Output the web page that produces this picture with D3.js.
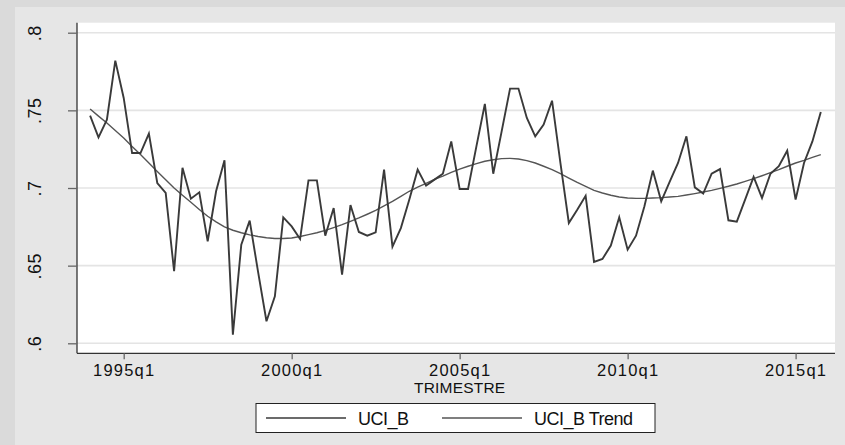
<!DOCTYPE html>
<html>
<head>
<meta charset="utf-8">
<script src="https://cdn.jsdelivr.net/npm/d3@7"></script>
<style>
  html, body { margin: 0; padding: 0; background: #e6e6e6; }
  svg { display: block; font-family: "Liberation Sans", Arial, sans-serif; }
</style>
</head>
<body>
<svg id="chart" width="845" height="445"></svg>
<script>
// Quarterly capacity utilisation, 1994q1 - 2015q4 (quarter index counted from 1960q1)
const startQuarter = 136; // 1994q1
const uciB = [
  0.7466, 0.7326, 0.7440, 0.7820, 0.7580, 0.7225, 0.7225, 0.7350, 0.7032, 0.6968,
  0.6464, 0.7130, 0.6931, 0.6972, 0.6657, 0.6979, 0.7178, 0.6056, 0.6635, 0.6790,
  0.6460, 0.6142, 0.6303, 0.6811, 0.6753, 0.6672, 0.7049, 0.7049, 0.6693, 0.6871,
  0.6442, 0.6890, 0.6717, 0.6693, 0.6715, 0.7118, 0.6622, 0.6742, 0.6925, 0.7118,
  0.7015, 0.7054, 0.7092, 0.7300, 0.6994, 0.6994, 0.7270, 0.7541, 0.7092, 0.7365,
  0.7640, 0.7640, 0.7451, 0.7333, 0.7408, 0.7562, 0.7160, 0.6775, 0.6860, 0.6950,
  0.6524, 0.6543, 0.6629, 0.6811, 0.6603, 0.6693, 0.6882, 0.7112, 0.6914, 0.7039,
  0.7161, 0.7333, 0.7004, 0.6964, 0.7092, 0.7122, 0.6792, 0.6783, 0.6927, 0.7071,
  0.6936, 0.7092, 0.7140, 0.7240, 0.6925, 0.7161, 0.7300, 0.7489
];
const uciBTrend = [
  0.7509, 0.7463, 0.7418, 0.7370, 0.7322, 0.7268, 0.7215, 0.7161, 0.7107, 0.7053,
  0.7000, 0.6953, 0.6908, 0.6862, 0.6818, 0.6782, 0.6750, 0.6728, 0.6712, 0.6698,
  0.6688, 0.6680, 0.6675, 0.6675, 0.6678, 0.6688, 0.6700, 0.6712, 0.6727, 0.6745,
  0.6764, 0.6785, 0.6807, 0.6831, 0.6856, 0.6885, 0.6914, 0.6946, 0.6979, 0.7006,
  0.7030, 0.7055, 0.7077, 0.7101, 0.7122, 0.7140, 0.7157, 0.7172, 0.7182, 0.7189,
  0.7191, 0.7187, 0.7176, 0.7161, 0.7140, 0.7118, 0.7092, 0.7064, 0.7036, 0.7011,
  0.6985, 0.6968, 0.6953, 0.6942, 0.6936, 0.6933, 0.6933, 0.6936, 0.6938, 0.6942,
  0.6946, 0.6955, 0.6964, 0.6974, 0.6985, 0.6998, 0.7011, 0.7026, 0.7043, 0.7060,
  0.7079, 0.7099, 0.7118, 0.7140, 0.7161, 0.7178, 0.7197, 0.7215
];
const xTickQuarters = [140, 160, 180, 200, 220];
const xTickLabels = ["1995q1", "2000q1", "2005q1", "2010q1", "2015q1"];
const yTickValues = [0.6, 0.65, 0.7, 0.75, 0.8];
const yTickLabels = [".6", ".65", ".7", ".75", ".8"];
const seriesNames = ["UCI_B", "UCI_B Trend"];
const xTitle = "TRIMESTRE";

const svg = d3.select("#chart");
const W = 845, H = 445;

// Graph region backgrounds
svg.append("rect").attr("x", 0).attr("y", 0).attr("width", W).attr("height", H).attr("fill", "#dadada");
svg.append("rect").attr("x", 15).attr("y", 7).attr("width", W - 15).attr("height", H - 7).attr("fill", "#e6e6e6");

// Plot region
const plot = { left: 77, right: 835, top: 22.7, bottom: 353.3 };
svg.append("rect")
  .attr("x", plot.left).attr("y", plot.top)
  .attr("width", plot.right - plot.left).attr("height", plot.bottom - plot.top)
  .attr("fill", "#ffffff");

const x = d3.scaleLinear().domain([134.44, 224.69]).range([plot.left, plot.right]);
const y = d3.scaleLinear().domain([0.59356, 0.80644]).range([plot.bottom, plot.top]);

// Horizontal grid lines
svg.append("g").selectAll("line").data(yTickValues).join("line")
  .attr("x1", plot.left).attr("x2", plot.right)
  .attr("y1", d => y(d)).attr("y2", d => y(d))
  .attr("stroke", "#e4e4e4").attr("stroke-width", 1.6);

// Series lines
const pts = arr => arr.map((v, i) => [startQuarter + i, v]);
const line = d3.line().x(d => x(d[0])).y(d => y(d[1]));

svg.append("path").datum(pts(uciBTrend))
  .attr("d", line).attr("fill", "none")
  .attr("stroke", "#555555").attr("stroke-width", 1.4).attr("stroke-linejoin", "round");

svg.append("path").datum(pts(uciB))
  .attr("d", line).attr("fill", "none")
  .attr("stroke", "#3a3a3a").attr("stroke-width", 1.9).attr("stroke-linejoin", "miter");

// Y axis
const yAxis = d3.axisLeft(y).tickValues(yTickValues)
  .tickFormat((d, i) => yTickLabels[i]).tickSize(9).tickPadding(0);
const gy = svg.append("g").attr("transform", `translate(${plot.left},0)`).call(yAxis);
gy.select(".domain").attr("d", `M0,${plot.top}V${plot.bottom}`).attr("stroke", "#333").attr("stroke-width", 1.3);
gy.selectAll(".tick line").attr("stroke", "#666").attr("stroke-width", 1.3);
gy.selectAll(".tick text")
  .attr("x", null).attr("dy", null)
  .attr("transform", "translate(-36,0) rotate(-90)")
  .attr("text-anchor", "middle")
  .attr("font-size", 18).attr("fill", "#111")
  .style("letter-spacing", "0.5px");

// X axis
const xAxis = d3.axisBottom(x).tickValues(xTickQuarters)
  .tickFormat((d, i) => xTickLabels[i]).tickSize(6).tickPadding(5);
const gx = svg.append("g").attr("transform", `translate(0,${plot.bottom})`).call(xAxis);
gx.select(".domain").attr("d", `M${plot.left},0H${plot.right}`).attr("stroke", "#333").attr("stroke-width", 1.3);
gx.selectAll(".tick line").attr("stroke", "#666").attr("stroke-width", 1.3);
gx.selectAll(".tick text")
  .attr("font-size", 16.5).attr("fill", "#111")
  .style("letter-spacing", "1.2px");

// Axis title
svg.append("text")
  .attr("x", x(180)).attr("y", 393)
  .attr("text-anchor", "middle")
  .attr("font-size", 15.5).attr("fill", "#111")
  .style("letter-spacing", "0.2px")
  .text(xTitle);

// Legend
const legend = svg.append("g");
legend.append("rect")
  .attr("x", 256).attr("y", 403.5).attr("width", 399).attr("height", 29)
  .attr("fill", "#fff").attr("stroke", "#222").attr("stroke-width", 1);
const legendItems = [
  { name: seriesNames[0], x0: 266, color: "#3a3a3a", w: 1.6 },
  { name: seriesNames[1], x0: 442, color: "#555555", w: 1.4 }
];
legendItems.forEach(it => {
  legend.append("line")
    .attr("x1", it.x0).attr("x2", it.x0 + 80)
    .attr("y1", 418).attr("y2", 418)
    .attr("stroke", it.color).attr("stroke-width", it.w);
  legend.append("text")
    .attr("x", it.x0 + 92).attr("y", 425)
    .attr("font-size", 18).attr("fill", "#111")
    .style("letter-spacing", "-0.5px")
    .text(it.name);
});
</script>
</body>
</html>
